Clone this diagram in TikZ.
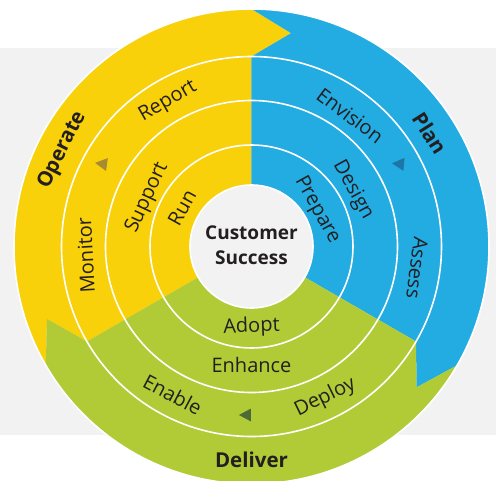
\documentclass[tikz,border=0pt]{standalone}
\usepackage{fontspec}
\setmainfont{Open Sans}
\usetikzlibrary{calc}

\definecolor{opyellow}{HTML}{F8D10A}
\definecolor{plblue}{HTML}{22ACE2}
\definecolor{dlgreen}{HTML}{B0CB36}
\definecolor{bggray}{HTML}{F2F2F2}
\definecolor{txtdark}{HTML}{231F20}
\definecolor{opmark}{HTML}{A88A33}
\definecolor{plmark}{HTML}{1D75A8}
\definecolor{dlmark}{HTML}{4A6B34}

\tikzset{
	steplabel/.style={font=\fontsize{20}{20}\selectfont, text=txtdark, inner sep=0pt},
	phaselabel/.style={font=\fontsize{20.5}{20.5}\selectfont\bfseries, text=txtdark, inner sep=0pt},
	ringline/.style={draw=white, line width=1.6pt}
}

% radii of the rings
\def\Rc{61.5}
\def\Ra{101.5}
\def\Rb{146}
\def\Rr{190}
\def\Ro{237.5}
\def\Rm{217}

\begin{document}
\begin{tikzpicture}[x=1pt, y=1pt]
	\useasboundingbox (-251.5,-233.5) rectangle (244.5,246.5);
	\fill[bggray] (-251.5,-188.5) rectangle (244.5,198.5);
	
	% sectors and outer chevron arrows
	\foreach \a/\col in {210/opyellow, 90/plblue, -30/dlgreen}{
		\pgfmathsetmacro{\b}{\a-120}
		\fill[\col] (0,0) -- (\a:\Rr) arc[start angle=\a, end angle=\b, radius=\Rr pt] -- cycle;
		\fill[\col] (\a:\Ro) arc[start angle=\a, end angle=\b, radius=\Ro pt]
			-- (\b-10.5:\Rm) -- (\b:\Rr) arc[start angle=\b, end angle=\a, radius=\Rr pt]
			-- (\a-10.5:\Rm) -- cycle;
	}
	
	% white rings
	\foreach \r in {\Ra, \Rb, \Rr, \Ro}
		\draw[ringline] (0,0) circle[radius=\r pt];
	\filldraw[ringline, fill=bggray] (0,0) circle[radius=\Rc pt];
	
	\node[phaselabel, align=center, font=\fontsize{19}{25}\selectfont\bfseries] (success) at (0,1) {Customer\\Success};
	
	% outer ring
	\node[phaselabel, rotate=63] (operate) at (153:212) {Operate};
	\node[phaselabel, rotate=-57.6] (plan) at (32.4:211.5) {Plan};
	\node[phaselabel] (deliver) at (-90:213) {Deliver};
	
	% third ring
	\node[steplabel, rotate=30] (report) at (120:167) {Report};
	\node[steplabel, rotate=93] (monitor) at (183:166) {Monitor};
	\node[steplabel, rotate=-37] (envision) at (53:164) {Envision};
	\node[steplabel, rotate=-97.4] (assess) at (-7.4:167) {Assess};
	\node[steplabel, rotate=-28] (enable) at (-118:168) {Enable};
	\node[steplabel, rotate=26] (deploy) at (-64:168) {Deploy};
	
	% second ring
	\node[steplabel, rotate=65] (support) at (155:115) {Support};
	\node[steplabel, rotate=-61] (design) at (29:116) {Design};
	\node[steplabel] (enhance) at (-90:118.5) {Enhance};
	
	% first ring
	\node[steplabel, rotate=61] (run) at (151:79.5) {Run};
	\node[steplabel, rotate=-61] (prepare) at (29:75) {Prepare};
	\node[steplabel, rotate=2] (adopt) at (-90:80.5) {Adopt};
	
	% flow markers
	\fill[opmark, shift={(-148.5,82.5)}, rotate=-8] (-8,0) -- (4,6.5) -- (4,-6.5) -- cycle;
	\fill[plmark, shift={(148.5,82.5)}, rotate=-5] (-8,0) -- (4,6.5) -- (4,-6.5) -- cycle;
	\fill[dlmark, shift={(-4.5,-168.5)}] (-8,0) -- (4,6.5) -- (4,-6.5) -- cycle;
\end{tikzpicture}
\end{document}
